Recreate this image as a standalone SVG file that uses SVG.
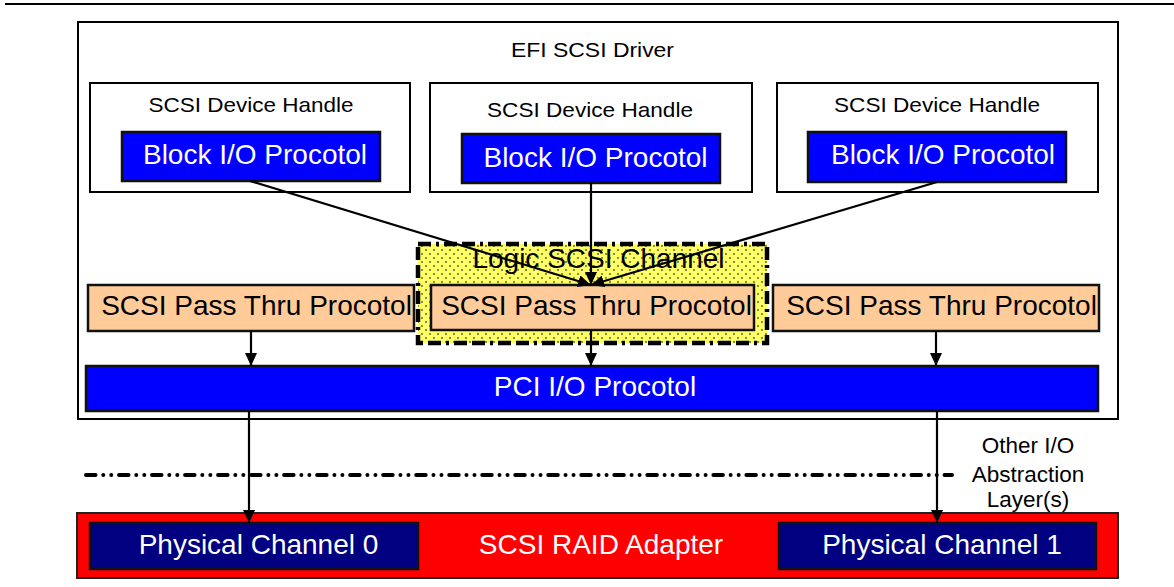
<svg xmlns="http://www.w3.org/2000/svg" width="1174" height="587" viewBox="0 0 1174 587">
  <style>
    text { font-family: "Liberation Sans", Arial, sans-serif; text-anchor: middle; }
    .lbl { font-size: 21px; fill: #000; }
    .note { font-size: 22.5px; fill: #000; }
    .big { font-size: 28px; }
    .white { fill: #fff; }
    .dark { fill: #000; }
    .box { fill: #fff; stroke: #000; stroke-width: 2; }
    .blue { fill: #0000ff; stroke: #111; stroke-width: 2.5; }
    .peach { fill: #ffcc99; stroke: #111; stroke-width: 2.5; }
    .navy { fill: #000080; stroke: #111; stroke-width: 2.5; }
    .conn { stroke: #000; stroke-width: 2.2; fill: none; marker-end: url(#arrow); }
  </style>
  <defs>
    <marker id="arrow" markerUnits="userSpaceOnUse" markerWidth="14" markerHeight="12" refX="13" refY="6" orient="auto">
      <path d="M0,0 L13,6 L0,12 z" fill="#000"/>
    </marker>
    <pattern id="dots" patternUnits="userSpaceOnUse" width="8" height="8">
      <rect width="8" height="8" fill="#ffff66"/>
      <circle cx="2" cy="2" r="0.9" fill="#555533"/>
      <circle cx="6" cy="6" r="0.9" fill="#555533"/>
    </pattern>
  </defs>

  <rect width="1174" height="587" fill="#fff"/>

  <!-- page rule -->
  <line x1="5" y1="4" x2="1174" y2="4" stroke="#000" stroke-width="2"/>

  <!-- driver container -->
  <g id="efi-scsi-driver">
    <rect class="box" x="78" y="22" width="1040" height="397"/>
    <text class="lbl" x="592.5" y="57" textLength="163" lengthAdjust="spacingAndGlyphs">EFI SCSI Driver</text>
  </g>

  <g id="device-handle-1">
    <rect class="box" x="90" y="83" width="320" height="109"/>
    <text class="lbl" x="251" y="112" textLength="205" lengthAdjust="spacingAndGlyphs">SCSI Device Handle</text>
  </g>
  <g id="device-handle-2">
    <rect class="box" x="430" y="83" width="322" height="109"/>
    <text class="lbl" x="590" y="117" textLength="206" lengthAdjust="spacingAndGlyphs">SCSI Device Handle</text>
  </g>
  <g id="device-handle-3">
    <rect class="box" x="777" y="83" width="321" height="109"/>
    <text class="lbl" x="937" y="112" textLength="206" lengthAdjust="spacingAndGlyphs">SCSI Device Handle</text>
  </g>

  <g id="block-io-1">
    <rect class="blue" x="122" y="132" width="258" height="49"/>
    <text class="big white" x="255" y="164">Block I/O Procotol</text>
  </g>
  <g id="block-io-2">
    <rect class="blue" x="462" y="134" width="258" height="49"/>
    <text class="big white" x="595.5" y="167">Block I/O Procotol</text>
  </g>
  <g id="block-io-3">
    <rect class="blue" x="808" y="132" width="258" height="50"/>
    <text class="big white" x="943" y="164">Block I/O Procotol</text>
  </g>

  <!-- logical channel grouping -->
  <g id="logic-scsi-channel">
    <rect x="418" y="244" width="349" height="99" fill="url(#dots)" stroke="#000" stroke-width="4.5" stroke-dasharray="13 5 3 5 13 5"/>
    <text class="big dark" x="598.5" y="268">Logic SCSI Channel</text>
  </g>

  <g id="pass-thru-1">
    <rect class="peach" x="88" y="285" width="326" height="46"/>
    <text class="big dark" x="256.5" y="315">SCSI Pass Thru Procotol</text>
  </g>
  <g id="pass-thru-2">
    <rect class="peach" x="431" y="285" width="323" height="45"/>
    <text class="big dark" x="596.5" y="315">SCSI Pass Thru Procotol</text>
  </g>
  <g id="pass-thru-3">
    <rect class="peach" x="773" y="285" width="326" height="46"/>
    <text class="big dark" x="941.5" y="315">SCSI Pass Thru Procotol</text>
  </g>

  <g id="pci-io">
    <rect class="blue" x="86" y="366" width="1012" height="45"/>
    <text class="big white" x="595" y="396">PCI I/O Procotol</text>
  </g>

  <!-- abstraction boundary -->
  <g id="abstraction-layer">
    <line x1="86" y1="475" x2="952" y2="475" stroke="#000" stroke-width="4" stroke-linecap="round" stroke-dasharray="9.5 7.75 0.01 8 0.01 7.75"/>
    <text class="note" x="1028" y="453">Other I/O</text>
    <text class="note" x="1028" y="482">Abstraction</text>
    <text class="note" x="1028" y="507">Layer(s)</text>
  </g>

  <g id="raid-adapter">
    <rect x="77" y="513" width="1041" height="65" fill="#ff0000" stroke="#222" stroke-width="2"/>
    <text class="big white" x="601" y="554">SCSI RAID Adapter</text>
  </g>
  <g id="physical-channel-0">
    <rect class="navy" x="90" y="523" width="328" height="46"/>
    <text class="big white" x="258.5" y="554">Physical Channel 0</text>
  </g>
  <g id="physical-channel-1">
    <rect class="navy" x="779" y="523" width="317" height="46"/>
    <text class="big white" x="942" y="554">Physical Channel 1</text>
  </g>

  <g id="connectors">
    <line class="conn" x1="250" y1="181" x2="591" y2="285"/>
    <line class="conn" x1="591" y1="183" x2="591" y2="285"/>
    <line class="conn" x1="937" y1="182" x2="591" y2="285"/>
    <line class="conn" x1="251" y1="331" x2="251" y2="366"/>
    <line class="conn" x1="591" y1="330" x2="591" y2="366"/>
    <line class="conn" x1="936" y1="331" x2="936" y2="366"/>
    <line class="conn" x1="249" y1="411" x2="249" y2="523"/>
    <line class="conn" x1="937" y1="411" x2="937" y2="523"/>
  </g>
</svg>
